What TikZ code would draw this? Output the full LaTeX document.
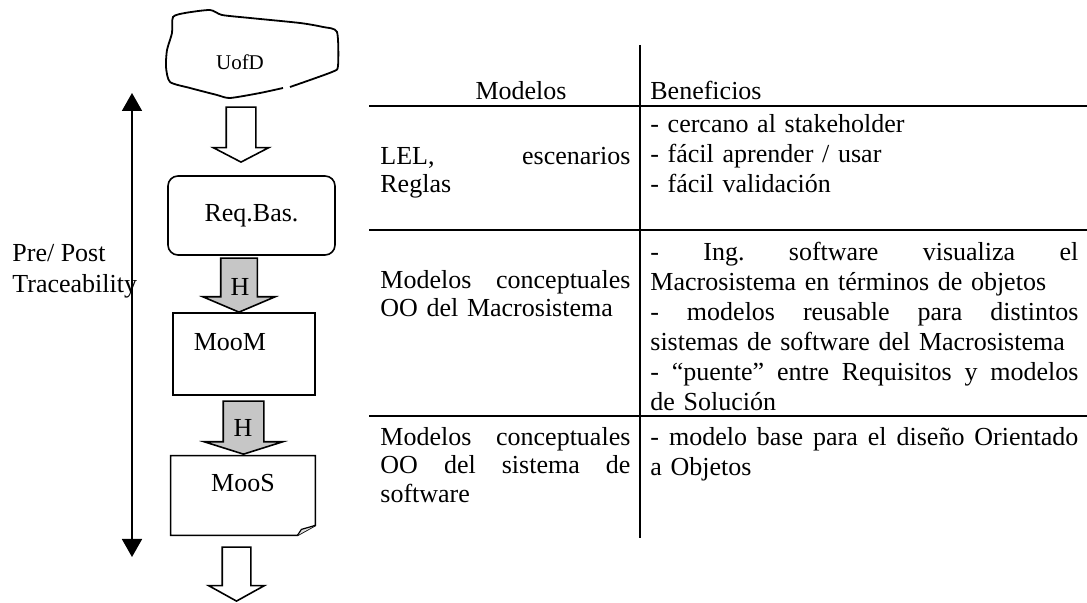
\documentclass[tikz,border=0pt]{standalone}
\usepackage{fontspec}
\setmainfont{Liberation Serif}
\usetikzlibrary{positioning}
\usetikzlibrary{arrows.meta}
\usetikzlibrary{calc}
\usetikzlibrary{shapes.arrows}

\begin{document}
\begin{tikzpicture}[
    x=0.5pt, y=-0.5pt,
    font=\fontsize{13}{14.25}\selectfont,
    box/.style={draw, line width=0.8pt, inner sep=0pt},
    hollow/.style={single arrow, draw, line width=0.8pt, rotate=-90, anchor=tip, inner xsep=0pt, fill=white},
    hstep/.style={hollow, fill=gray!45},
    cell/.style={anchor=north west, inner sep=0pt, align=left},
    wide/.style={cell, text width=214pt, font=\fontsize{13}{15}\selectfont},
    rule/.style={line width=1.3pt},
    >={Triangle[width=10pt,length=9pt]}  % Arrow style
]
    \useasboundingbox (0,0) rectangle (1087,603);

    % Universe of discourse
    \node[font=\fontsize{10.5}{12}\selectfont] (uofd) at (240,62) {UofD};
    \draw[line width=0.9pt] plot[smooth, tension=0.4] coordinates {
        (290,87) (332,72) (338,66) (337,32) (323,27) (300,23) (250,18)
        (222,15) (210,10) (185,13) (173,17) (172,33) (167,50) (166,67)
        (170,82) (190,88) (217,95) (230,98) (260,93) (283,88)};

    % Process boxes
    \node[box, rounded corners=5pt, minimum width=83.5pt, minimum height=39.5pt] (reqbas) at (251.5,215.5) {Req.Bas.};
    \node[box, minimum width=71pt, minimum height=41pt] (moom) at (244,354) {};
    \node (moomlabel) at (230,342) {MooM};
    \node[inner sep=0pt, minimum width=72pt, minimum height=39.5pt] (moos) at (243,495.5) {};
    \draw[line width=0.8pt] (moos.north west) -- (moos.north east) -- ($(moos.south east)+(0,-10)$)
        -- ($(moos.south east)+(-18,0)$) -- (moos.south west) -- cycle;
    \draw[line width=0.6pt, fill=gray!25] ($(moos.south east)+(0,-10)$) -- ($(moos.south east)+(-14,-6)$)
        -- ($(moos.south east)+(-18,0)$);
    \node (mooslabel) at (243,483) {MooS};

    % Block arrows
    \node[hollow, minimum height=27.5pt, minimum width=27pt, inner ysep=7pt,
        single arrow head extend=6.5pt, single arrow tip angle=125] (uofd2req) at (241,163) {};
    \node[hstep, minimum height=27pt, minimum width=35.5pt, inner ysep=8.75pt,
        single arrow head extend=9pt, single arrow tip angle=134] (req2moom) at (239,313) {};
    \node (h1) at (240,287) {H};
    \node[hstep, minimum height=26.5pt, minimum width=38.5pt, inner ysep=9.75pt,
        single arrow head extend=9.5pt, single arrow tip angle=145] (moom2moos) at (243.5,455) {};
    \node (h2) at (243,428) {H};
    \node[hollow, minimum height=27pt, minimum width=27pt, inner ysep=6.75pt,
        single arrow head extend=6.75pt, single arrow tip angle=122] (moosout) at (236.5,602) {};

    % Traceability
    \coordinate (tracetop) at (132,93);
    \coordinate (tracebot) at (132,557);
    \draw[<->, line width=0.9pt] (tracetop) -- (tracebot);
    \node[cell, font=\fontsize{13}{15.5}\selectfont] (trace) at (12,239) {\strut Pre/ Post\\ Traceability};

    % Table rules
    \draw[rule] (640,45) -- (640,538);
    \draw[rule] (369,106) -- (1087,106);
    \draw[rule] (369,230) -- (1087,230);
    \draw[rule] (369,416) -- (1087,416);

    % Header
    \node[anchor=base] (colmod) at (521,100) {Modelos};
    \node[anchor=base west, inner sep=0pt] (colben) at (650,100) {Beneficios};

    % Rows
    \node[cell, text width=125pt] (mod1) at (380,144) {\strut LEL,\hfill escenarios\\ Reglas};
    \node[wide] (ben1) at (650,111) {\strut - cercano al stakeholder\\ - fácil aprender / usar\\ - fácil validación};
    \node[cell, text width=125pt] (mod2) at (380,268) {\strut Modelos\hfill conceptuales\\ OO del Macrosistema};
    \node[wide] (ben2) at (650,239) {\strut -\hfill Ing.\hfill software\hfill visualiza\hfill el\\
        Macrosistema en términos de objetos\\
        -\hfill modelos\hfill reusable\hfill para\hfill distintos\\
        sistemas de software del Macrosistema\\
        -\hfill “puente”\hfill entre\hfill Requisitos\hfill y\hfill modelos\\
        de Solución};
    \node[cell, text width=125pt] (mod3) at (380,425) {\strut Modelos\hfill conceptuales\\ OO\hfill del\hfill sistema\hfill de\\ software};
    \node[wide] (ben3) at (650,424) {\strut -\hfill modelo\hfill base\hfill para\hfill el\hfill diseño\hfill Orientado\\ a Objetos};
\end{tikzpicture}
\end{document}
